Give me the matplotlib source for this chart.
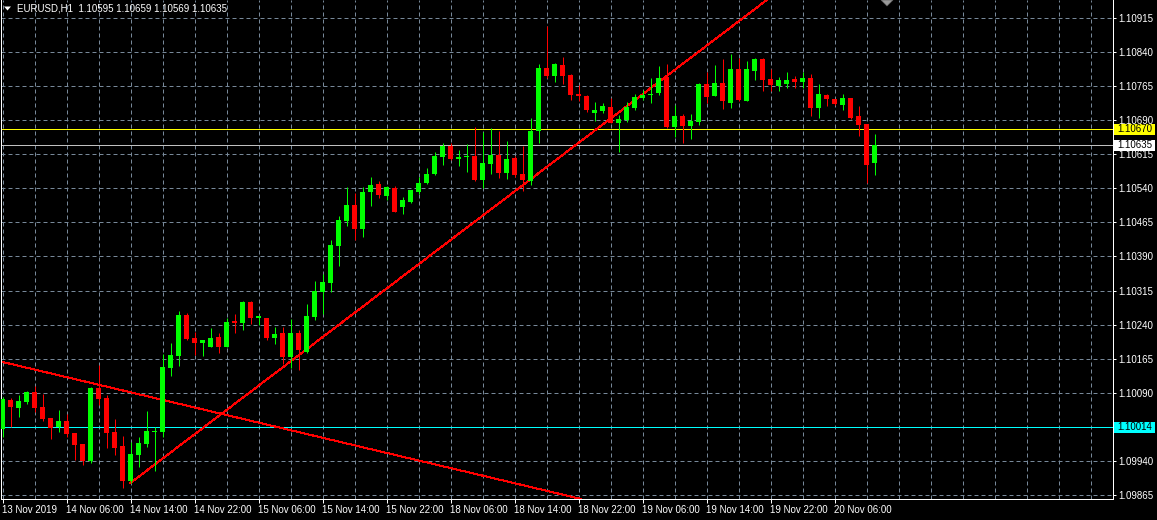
import numpy as np
import matplotlib
matplotlib.use('Agg')
import matplotlib.pyplot as plt
from matplotlib.patches import Polygon, Rectangle
from matplotlib.transforms import IdentityTransform

plt.rcParams['font.family'] = ['Liberation Sans', 'DejaVu Sans']

symbol = 'EURUSD'
timeframe = 'H1'

opens = [1.10010, 1.10074, 1.10057, 1.10070, 1.10092, 1.10059, 1.10034, 1.10014, 1.10028, 1.10001,
         1.09977, 1.09941, 1.10100, 1.10078, 1.10004, 1.09973, 1.09896, 1.09953, 1.09977, 1.10004,
         1.10004, 1.10144, 1.10171, 1.10261, 1.10210, 1.10199, 1.10191, 1.10213, 1.10191, 1.10247,
         1.10243, 1.10290, 1.10255, 1.10254, 1.10210, 1.10221, 1.10169, 1.10221, 1.10180, 1.10257,
         1.10312, 1.10332, 1.10413, 1.10468, 1.10503, 1.10451, 1.10532, 1.10549, 1.10523, 1.10540,
         1.10499, 1.10510, 1.10532, 1.10551, 1.10571, 1.10609, 1.10633, 1.10605, 1.10608, 1.10611,
         1.10558, 1.10593, 1.10613, 1.10573, 1.10606, 1.10571, 1.10556, 1.10666, 1.10804, 1.10787,
         1.10811, 1.10789, 1.10747, 1.10743, 1.10706, 1.10710, 1.10719, 1.10683, 1.10690, 1.10716,
         1.10738, 1.10745, 1.10749, 1.10785, 1.10675, 1.10699, 1.10677, 1.10686, 1.10769, 1.10743,
         1.10771, 1.10727, 1.10802, 1.10732, 1.10798, 1.10824, 1.10780, 1.10765, 1.10769, 1.10780,
         1.10774, 1.10782, 1.10716, 1.10745, 1.10736, 1.10723, 1.10738, 1.10699, 1.10681, 1.10595]

highs = [1.10081, 1.10079, 1.10085, 1.10095, 1.10106, 1.10087, 1.10035, 1.10052, 1.10043, 1.10002,
         1.09978, 1.10102, 1.10151, 1.10085, 1.10032, 1.09995, 1.09982, 1.09993, 1.10050, 1.10014,
         1.10175, 1.10199, 1.10270, 1.10265, 1.10224, 1.10207, 1.10232, 1.10221, 1.10254, 1.10263,
         1.10292, 1.10291, 1.10259, 1.10255, 1.10235, 1.10235, 1.10252, 1.10228, 1.10285, 1.10336,
         1.10351, 1.10426, 1.10480, 1.10543, 1.10529, 1.10543, 1.10565, 1.10556, 1.10545, 1.10545,
         1.10521, 1.10537, 1.10564, 1.10584, 1.10620, 1.10639, 1.10640, 1.10624, 1.10637, 1.10674,
         1.10663, 1.10672, 1.10666, 1.10644, 1.10610, 1.10633, 1.10694, 1.10813, 1.10897, 1.10815,
         1.10829, 1.10791, 1.10767, 1.10745, 1.10730, 1.10727, 1.10738, 1.10701, 1.10730, 1.10747,
         1.10756, 1.10782, 1.10809, 1.10813, 1.10723, 1.10703, 1.10703, 1.10771, 1.10796, 1.10811,
         1.10824, 1.10835, 1.10826, 1.10820, 1.10826, 1.10826, 1.10802, 1.10785, 1.10796, 1.10787,
         1.10796, 1.10791, 1.10769, 1.10747, 1.10737, 1.10747, 1.10739, 1.10721, 1.10682, 1.10659]

lows = [1.09993, 1.10014, 1.10037, 1.10065, 1.10048, 1.10028, 1.09988, 1.10004, 1.09993, 1.09942,
        1.09931, 1.09936, 1.10063, 1.09969, 1.09953, 1.09881, 1.09891, 1.09927, 1.09971, 1.09918,
        1.09993, 1.10127, 1.10149, 1.10207, 1.10173, 1.10171, 1.10190, 1.10177, 1.10190, 1.10221,
        1.10228, 1.10241, 1.10239, 1.10206, 1.10197, 1.10153, 1.10144, 1.10140, 1.10177, 1.10250,
        1.10263, 1.10312, 1.10369, 1.10457, 1.10427, 1.10433, 1.10501, 1.10519, 1.10514, 1.10487,
        1.10484, 1.10507, 1.10527, 1.10550, 1.10569, 1.10591, 1.10602, 1.10589, 1.10576, 1.10556,
        1.10540, 1.10571, 1.10563, 1.10560, 1.10564, 1.10534, 1.10547, 1.10640, 1.10782, 1.10774,
        1.10769, 1.10734, 1.10732, 1.10708, 1.10689, 1.10705, 1.10683, 1.10620, 1.10686, 1.10712,
        1.10734, 1.10727, 1.10745, 1.10672, 1.10653, 1.10639, 1.10648, 1.10679, 1.10727, 1.10742,
        1.10714, 1.10716, 1.10733, 1.10731, 1.10778, 1.10754, 1.10754, 1.10754, 1.10760, 1.10760,
        1.10760, 1.10699, 1.10694, 1.10721, 1.10723, 1.10712, 1.10692, 1.10655, 1.10551, 1.10569]

closes = [1.10076, 1.10059, 1.10072, 1.10092, 1.10057, 1.10032, 1.10013, 1.10028, 1.10000, 1.09975,
          1.09940, 1.10100, 1.10076, 1.10001, 1.09969, 1.09896, 1.09955, 1.09979, 1.10006, 1.10006,
          1.10147, 1.10173, 1.10261, 1.10208, 1.10199, 1.10206, 1.10210, 1.10191, 1.10246, 1.10244,
          1.10290, 1.10254, 1.10258, 1.10210, 1.10219, 1.10169, 1.10221, 1.10184, 1.10259, 1.10314,
          1.10334, 1.10415, 1.10470, 1.10503, 1.10451, 1.10532, 1.10547, 1.10525, 1.10543, 1.10488,
          1.10514, 1.10536, 1.10551, 1.10571, 1.10611, 1.10633, 1.10604, 1.10608, 1.10611, 1.10558,
          1.10595, 1.10613, 1.10573, 1.10604, 1.10569, 1.10558, 1.10666, 1.10804, 1.10787, 1.10813,
          1.10787, 1.10746, 1.10744, 1.10712, 1.10712, 1.10721, 1.10684, 1.10692, 1.10719, 1.10741,
          1.10745, 1.10747, 1.10782, 1.10675, 1.10699, 1.10677, 1.10688, 1.10769, 1.10741, 1.10771,
          1.10732, 1.10802, 1.10734, 1.10802, 1.10824, 1.10778, 1.10767, 1.10778, 1.10778, 1.10774,
          1.10782, 1.10716, 1.10747, 1.10736, 1.10725, 1.10738, 1.10694, 1.10679, 1.10591, 1.10635]

time_label_bars = [0, 8, 16, 24, 32, 40, 48, 56, 64, 72, 80, 88, 96, 104]
time_labels = ['13 Nov 2019', '14 Nov 06:00', '14 Nov 14:00', '14 Nov 22:00', '15 Nov 06:00',
               '15 Nov 14:00', '15 Nov 22:00', '18 Nov 06:00', '18 Nov 14:00', '18 Nov 22:00',
               '19 Nov 06:00', '19 Nov 14:00', '19 Nov 22:00', '20 Nov 06:00']

price_ticks = [1.09865, 1.09940, 1.10015, 1.10090, 1.10165, 1.10240, 1.10315, 1.10390,
               1.10465, 1.10540, 1.10615, 1.10690, 1.10765, 1.10840, 1.10915]

level_yellow = 1.10670
level_cyan = 1.10014
bid_price = closes[-1]

trend_down_bars = [0, 72]
trend_down_prices = [1.10158, 1.09858]
trend_up_bars = [16, 64]
trend_up_prices = [1.09892, 1.10533]

# ---------------- layout ----------------
W, H = 1157, 520
PL, PR, PT, PB = 1.0, 1113.0, 0.0, 499.0   # plot box in pixels
BAR_PX = 8.0
X0_PX = 2.5                                 # center of first bar in pixels
YMAX, YMIN = 1.109541, 1.098566
LW = 0.72                                   # 1 pixel

GRID = '#778899'
GREEN = '#00FF00'
RED = '#FF0000'

fig = plt.figure(figsize=(W / 100, H / 100), dpi=100, facecolor='black')
ax = fig.add_axes([PL / W, 1 - PB / H, (PR - PL) / W, (PB - PT) / H])
ax.set_facecolor('black')
ax.set_xlim((PL - X0_PX) / BAR_PX, (PR - X0_PX) / BAR_PX)
ax.set_ylim(YMIN, YMAX)

# grid
for p in price_ticks:
    ax.axhline(p, color=GRID, lw=LW, ls=(0, (4, 3)), zorder=0.5)
for b in range(0, 140, 4):
    ax.axvline(b, color=GRID, lw=LW, ls=(0, (4, 3)), zorder=0.5)

# horizontal levels
ax.axhline(level_yellow, color='#FFFF00', lw=LW, zorder=1)
ax.axhline(bid_price, color='#C0C0C0', lw=LW, zorder=1)
ax.axhline(level_cyan, color='#00FFFF', lw=LW, zorder=1)

# trend lines
ax.axline((trend_down_bars[0], trend_down_prices[0]), (trend_down_bars[1], trend_down_prices[1]),
          color=RED, lw=LW, zorder=1.5, antialiased=False)
slope = (trend_up_prices[1] - trend_up_prices[0]) / (trend_up_bars[1] - trend_up_bars[0])
x_end = 145
ax.plot([trend_up_bars[0], x_end], [trend_up_prices[0], trend_up_prices[0] + slope * (x_end - trend_up_bars[0])],
        color=RED, lw=LW, zorder=1.5, antialiased=False)

# candles
o = np.array(opens); h = np.array(highs); l = np.array(lows); c = np.array(closes)
x = np.arange(len(o))
up = c >= o
cols = np.where(up, GREEN, RED)
px_price = (YMAX - YMIN) / (PB - PT)
body_bot = np.minimum(o, c)
body_h = np.maximum(np.abs(c - o), px_price)
ax.vlines(x, l, h, colors=cols, lw=LW, zorder=2)
ax.bar(x, body_h, bottom=body_bot, width=5 / BAR_PX, color=cols, linewidth=0, zorder=3,
       antialiased=False)

# axes styling
for s in ['left', 'bottom', 'right']:
    ax.spines[s].set_color('white')
    ax.spines[s].set_linewidth(LW)
ax.spines['top'].set_visible(False)

ax.yaxis.tick_right()
ax.set_yticks(price_ticks)
ax.set_yticklabels([f'{p:.5f}' for p in price_ticks])
ax.tick_params(axis='y', colors='white', length=2.5, width=LW, pad=1.5, labelsize=7)
ax.set_xticks(time_label_bars)
ax.set_xticklabels(time_labels, ha='left')
ax.tick_params(axis='x', colors='white', length=3, width=LW, pad=1.5, labelsize=7)
for lab in ax.get_xticklabels():
    lab.set_horizontalalignment('left')

# header
fig.text(17 / W, 1 - 8.5 / H,
         f'{symbol},{timeframe}  {opens[-1]:.5f} {highs[-1]:.5f} {lows[-1]:.5f} {closes[-1]:.5f}',
         color='white', fontsize=7, va='center', ha='left')
tri = Polygon([[4 / W, 1 - 6.5 / H], [11 / W, 1 - 6.5 / H], [7.5 / W, 1 - 10.5 / H]],
              closed=True, transform=fig.transFigure, color='white', lw=0)
fig.add_artist(tri)
shift = Polygon([[881 / W, 1.0], [893 / W, 1.0], [887 / W, 1 - 6 / H]], closed=True,
                transform=fig.transFigure, facecolor='#9A9A9A', edgecolor='#606060', lw=0.5)
fig.add_artist(shift)

# price labels on the axis
fig.canvas.draw()
def disp_y(p):
    return ax.transData.transform((0, p))[1]

for p, fc in [(level_yellow, '#FFFF00'), (bid_price, '#FFFFFF'), (level_cyan, '#00FFFF')]:
    yc = disp_y(p)
    rect = Rectangle((1113.5, yc - 5.5), 41.5, 11, transform=IdentityTransform(),
                     facecolor=fc, edgecolor='none', zorder=4)
    fig.add_artist(rect)
    fig.text(1117.5 / W, yc / H, f'{p:.5f}', color='black', fontsize=7, va='center', ha='left',
             zorder=5)

fig.savefig('out.png', dpi=100, facecolor='black')
